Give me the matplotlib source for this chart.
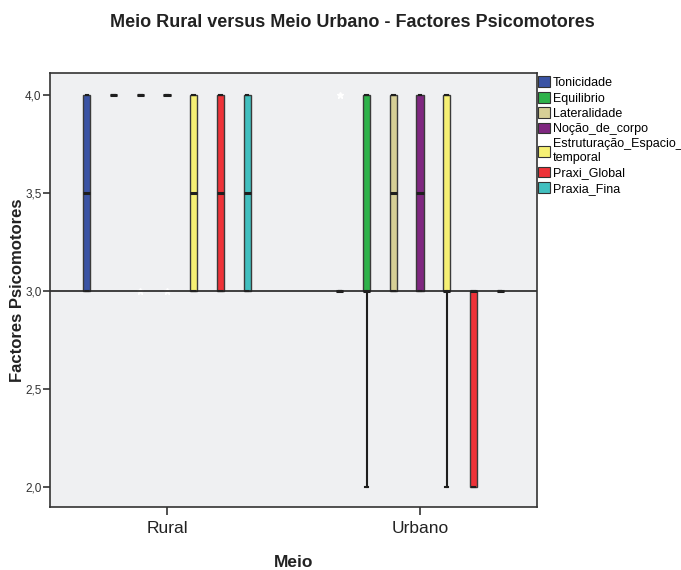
import matplotlib.pyplot as plt
from matplotlib.patches import Patch

plt.rcParams['font.family'] = ['Liberation Sans', 'DejaVu Sans']

groups = ['Rural', 'Urbano']
variables = ['Tonicidade', 'Equilibrio', 'Lateralidade', 'Noção_de_corpo',
             'Estruturação_Espacio_\ntemporal', 'Praxi_Global', 'Praxia_Fina']
colors = ['#3a53a4', '#2eb24a', '#d6cf96', '#7f2780', '#f6f074', '#ee3238', '#41bfbf']

# box statistics, one list per group (order = variables)
rural_q1 = [3.0, 4.0, 4.0, 4.0, 3.0, 3.0, 3.0]
rural_med = [3.5, 4.0, 4.0, 4.0, 3.5, 3.5, 3.5]
rural_q3 = [4.0, 4.0, 4.0, 4.0, 4.0, 4.0, 4.0]
rural_lo = [3.0, 4.0, 4.0, 4.0, 3.0, 3.0, 3.0]
rural_hi = [4.0, 4.0, 4.0, 4.0, 4.0, 4.0, 4.0]
rural_out = [[], [], [3.0], [3.0], [], [], []]

urb_q1 = [3.0, 3.0, 3.0, 3.0, 3.0, 2.0, 3.0]
urb_med = [3.0, 3.0, 3.5, 3.5, 3.0, 3.0, 3.0]
urb_q3 = [3.0, 4.0, 4.0, 4.0, 4.0, 3.0, 3.0]
urb_lo = [3.0, 2.0, 3.0, 3.0, 2.0, 2.0, 3.0]
urb_hi = [3.0, 4.0, 4.0, 4.0, 4.0, 3.0, 3.0]
urb_out = [[4.0], [], [], [], [], [], []]

stats_by_group = [
    (rural_q1, rural_med, rural_q3, rural_lo, rural_hi, rural_out),
    (urb_q1, urb_med, urb_q3, urb_lo, urb_hi, urb_out),
]

fig = plt.figure(figsize=(6.81, 5.70), dpi=100)
ax = fig.add_axes([0.0734, 0.1105, 0.7152, 0.7615])
ax.set_facecolor('#eff0f2')

step = 0.1055
width = 0.028

for g, (q1, med, q3, lo, hi, out) in enumerate(stats_by_group):
    for i in range(len(variables)):
        st = [dict(q1=q1[i], med=med[i], q3=q3[i], whislo=lo[i], whishi=hi[i],
                   fliers=out[i])]
        pos = g + (i - 3) * step
        ax.bxp(st, positions=[pos], widths=width, patch_artist=True,
               showcaps=True, manage_ticks=False,
               boxprops=dict(facecolor=colors[i], edgecolor='#3a3a3a', lw=1.0),
               medianprops=dict(color='#1e1e1e', lw=2.2, solid_capstyle='butt'),
               whiskerprops=dict(color='#1e1e1e', lw=1.5),
               capprops=dict(color='#1e1e1e', lw=1.5),
               capwidths=0.01,
               flierprops=dict(marker='*', markerfacecolor='white',
                               markeredgecolor='white', markersize=4.5))

# reference line at 3,0 drawn over the fliers
ax.axhline(3.0, color='#222222', lw=1.2, zorder=2.5)

ax.set_xlim(-0.4625, 1.4625)
ax.set_ylim(1.898, 4.114)
ax.set_xticks([0, 1])
ax.set_xticklabels(groups, fontsize=12.5, color='#222222')
ax.set_yticks([2.0, 2.5, 3.0, 3.5, 4.0])
ax.set_yticklabels(['2,0', '2,5', '3,0', '3,5', '4,0'], fontsize=8.5, color='#333333')
ax.tick_params(axis='x', length=6, width=1.2, color='#333333', pad=4)
ax.tick_params(axis='y', length=5, width=1.2, color='#333333', pad=1)
for s in ax.spines.values():
    s.set_color('#333333')
    s.set_linewidth(1.2)

ax.set_xlabel('Meio', fontsize=12.5, fontweight='bold', color='#222222', labelpad=14)
ax.set_ylabel('Factores Psicomotores', fontsize=12, fontweight='bold', color='#222222',
              labelpad=0)
fig.suptitle('Meio Rural versus Meio Urbano - Factores Psicomotores', fontsize=13,
             fontweight='bold', color='#222222', x=0.517, y=0.975)

handles = [Patch(facecolor=c, edgecolor='#333333', lw=0.8) for c in colors]
ax.legend(handles, variables, loc='upper left', bbox_to_anchor=(1.0, 0.995),
          frameon=False, fontsize=9, handlelength=0.9, handleheight=0.95,
          handletextpad=0.25, labelspacing=0.22, borderaxespad=0.1,
          borderpad=0.0)

fig.savefig('out.png', dpi=100)
